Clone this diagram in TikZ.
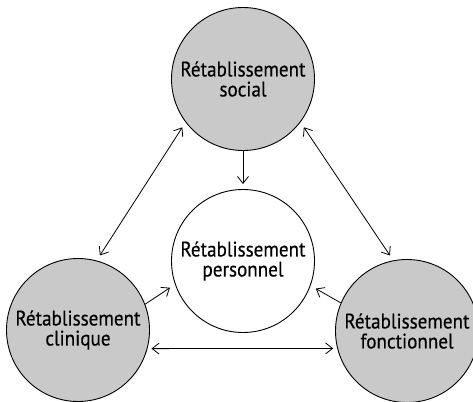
\documentclass[tikz,border=0pt]{standalone}
\usepackage{fontspec}
\setmainfont{PT Sans}[FakeStretch=0.91,FakeBold=0.4]
\usetikzlibrary{arrows.meta}
\begin{document}
\begin{tikzpicture}[x=1pt,y=-1pt,
  bubble/.style={circle,draw=black,line width=0.9pt,minimum size=143pt,inner sep=0pt,align=center,font=\fontsize{21}{20}\selectfont},
  graybubble/.style={bubble,fill=black!21},
  link/.style={line width=0.8pt,{Straight Barb[length=7pt,width=11pt]}-{Straight Barb[length=7pt,width=11pt]}},
  onelink/.style={line width=0.8pt,-{Straight Barb[length=7pt,width=11pt]}}]
\useasboundingbox (0,0) rectangle (473,401);
\node[graybubble] (soc) at (243,79) {Rétablissement\\social};
\node[bubble] (per) at (243,261) {Rétablissement\\personnel};
\node[graybubble] (cli) at (78,330) {Rétablissement\\clinique};
\node[graybubble] (fon) at (407,331) {Rétablissement\\fonctionnel};
\draw[onelink,shorten >=5pt] (soc.270) -- (per.90);
\draw[link,shorten <=6pt,shorten >=6pt] (soc.217.6) -- (cli.75.8);
\draw[link,shorten <=6pt,shorten >=6pt] (soc.323.7) -- (fon.101);
\draw[onelink,shorten >=6pt] (cli.21.4) -- (per.199.4);
\draw[onelink,shorten >=6pt] (fon.157.3) -- (per.340.9);
\draw[link,shorten <=4pt,shorten >=4pt] (cli.-15.4) -- (fon.194.6);
\end{tikzpicture}
\end{document}
